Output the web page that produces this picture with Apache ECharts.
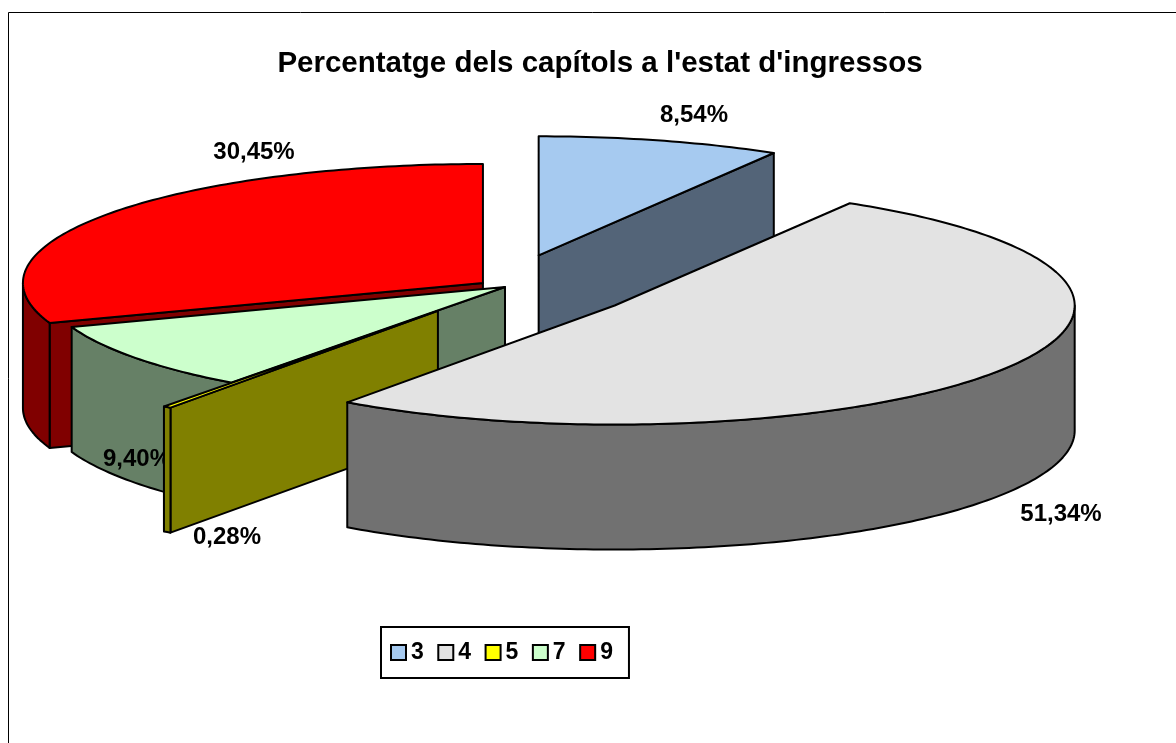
<!DOCTYPE html>
<html>
<head>
<meta charset="utf-8">
<title>Percentatge dels capítols</title>
<script src="https://cdn.jsdelivr.net/npm/echarts@6/dist/echarts.min.js"></script>
<style>
	html,body{margin:0;padding:0;background:#fff;}
	#chart{width:1176px;height:743px;}
</style>
</head>
<body>
<div id="chart"></div>
<script>
// valors llegits del grafic
var chartTitle = "Percentatge dels capítols a l'estat d'ingressos";
var categories = ['3', '4', '5', '7', '9'];
var shares = [8.54, 51.34, 0.28, 9.40, 30.45];

// colors de cada porcio: tapa i costat
var topColors = ['#a6caf0', '#e3e3e3', '#ffff00', '#ccffcc', '#ff0000'];
var sideColors = ['#536478', '#717171', '#808000', '#668066', '#800000'];

// separacio de cada porcio respecte al centre, ordre de pintat, posicio de les etiquetes
var explode = [127, 131, 114, 0, 27];
var paintOrder = [1, 5, 4, 3, 2];
var labelX = [694, 1061, 227, 137, 254];
var labelY = [115, 514, 537, 459, 152];

// geometria del pastis
var cx = 505, cy = 287, rx = 460, ry = 119, depth = 125;

var total = shares.reduce(function (a, b) { return a + b; }, 0);
var rad = Math.PI / 180;

function pctText(v) {
	return v.toFixed(2).replace('.', ',') + '%';
}

function sliceAngles(i) {
	var before = 0;
	for (var k = 0; k < i; k++) before += shares[k];
	return [before / total * 360, (before + shares[i]) / total * 360];
}

function point(ox, oy, deg, h) {
	return [ox + rx * Math.sin(deg * rad), oy - ry * Math.cos(deg * rad) + (h || 0)];
}

function arc(ox, oy, from, to, h) {
	var pts = [];
	var n = Math.max(2, Math.ceil(to - from));
	for (var k = 0; k <= n; k++) pts.push(point(ox, oy, from + (to - from) * k / n, h));
	return pts;
}

function face(pts, color) {
	return {
		type: 'polygon',
		shape: { points: pts },
		style: { fill: color, stroke: '#000', lineWidth: 2, lineJoin: 'round' }
	};
}

function renderSlice(i) {
	return function (params, api) {
		var ang = sliceAngles(i);
		var mid = (ang[0] + ang[1]) / 2;
		var ox = cx + explode[i] * Math.sin(mid * rad);
		var oy = cy - explode[i] * ry / rx * Math.cos(mid * rad);
		var children = [];

		// cares del tall que miren cap a l'espectador
		[[ang[0], ang[0] - 90], [ang[1], ang[1] + 90]].forEach(function (c) {
			if (Math.cos(c[1] * rad) < -0.001) {
				var p = point(ox, oy, c[0]);
				children.push(face([[ox, oy], p, [p[0], p[1] + depth], [ox, oy + depth]], sideColors[i]));
			}
		});

		// costat corbat, nomes la part de davant
		var from = Math.max(ang[0], 90), to = Math.min(ang[1], 270);
		if (to > from) {
			var upper = arc(ox, oy, from, to, 0);
			var lower = arc(ox, oy, from, to, depth).reverse();
			children.push(face(upper.concat(lower), sideColors[i]));
		}

		// tapa
		children.push(face([[ox, oy]].concat(arc(ox, oy, ang[0], ang[1], 0)), topColors[i]));

		children.push({
			type: 'text',
			x: labelX[i],
			y: labelY[i],
			style: {
				text: pctText(api.value(0)),
				fill: '#000',
				font: 'bold 24px "Liberation Sans", Arial, sans-serif',
				align: 'center',
				verticalAlign: 'middle'
			}
		});
		return { type: 'group', children: children };
	};
}

var myChart = echarts.init(document.getElementById('chart'));
var option = {
	animation: false,
	backgroundColor: '#fff',
	title: {
		text: chartTitle,
		left: 595,
		top: 44,
		textAlign: 'center',
		textStyle: { fontFamily: '"Liberation Sans", Arial, sans-serif', fontWeight: 'bold', fontSize: 29.5, color: '#000' }
	},
	legend: {
		left: 381,
		top: 627,
		orient: 'horizontal',
		data: categories,
		icon: 'rect',
		itemWidth: 15,
		itemHeight: 15,
		itemGap: 13.5,
		padding: [14, 16, 14, 9],
		borderColor: '#000',
		borderWidth: 2,
		backgroundColor: '#fff',
		itemStyle: { borderColor: '#000', borderWidth: 2 },
		textStyle: { fontFamily: '"Liberation Sans", Arial, sans-serif', fontWeight: 'bold', fontSize: 23, color: '#000' }
	},
	graphic: [{
		type: 'rect',
		shape: { x: 8.5, y: 12.5, width: 1300, height: 900 },
		style: { fill: 'none', stroke: '#000', lineWidth: 1 },
		silent: true
	}],
	series: categories.map(function (name, i) {
		return {
			name: name,
			type: 'custom',
			coordinateSystem: 'none',
			z: paintOrder[i] + 2,
			itemStyle: { color: topColors[i] },
			data: [[shares[i]]],
			renderItem: renderSlice(i)
		};
	})
};
myChart.setOption(option);
</script>
</body>
</html>
